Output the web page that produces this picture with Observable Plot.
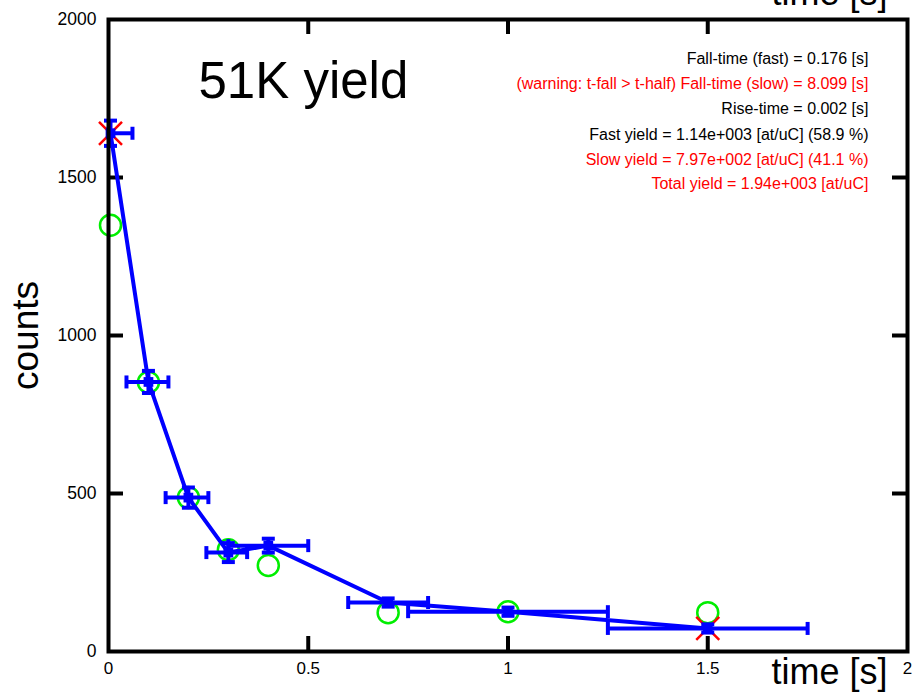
<!DOCTYPE html>
<html>
<head>
<meta charset="utf-8">
<script src="https://cdn.jsdelivr.net/npm/d3@7"></script>
<script src="https://cdn.jsdelivr.net/npm/@observablehq/plot@0.6"></script>
<style>
  html, body { margin: 0; padding: 0; background: #fff; }
  #chart svg { display: block; }
</style>
</head>
<body>
<div id="chart"></div>
<script>
// ---- data ----
const time      = [0.005, 0.1, 0.2, 0.3, 0.4, 0.7, 1.0, 1.5];
const counts    = [1640, 853, 487, 313, 335, 155, 126, 73];
const timeLo    = [0, 0.045, 0.143, 0.245, 0.3, 0.6, 0.75, 1.25];
const timeHi    = [0.06, 0.15, 0.25, 0.347, 0.5, 0.8, 1.25, 1.75];
const countErr  = [40, 35, 32, 30, 22, 13, 13, 13];
const fitCounts = [1349, 852, 487, 322, 272, 123, 126, 123];
const markTime  = [0.005, 1.5];
const markCount = [1640, 73];
const xTicks    = [0, 0.5, 1, 1.5, 2];
const xTickLabels = ["0", "0.5", "1", "1.5", "2"];
const yTicks    = [0, 500, 1000, 1500, 2000];
const innerXTicks = [0.5, 1, 1.5];
const innerYTicks = [500, 1000, 1500];
const annotLines = [
  "Fall-time (fast) = 0.176 [s]",
  "(warning: t-fall > t-half) Fall-time (slow) = 8.099 [s]",
  "Rise-time = 0.002 [s]",
  "Fast yield = 1.14e+003 [at/uC] (58.9 %)",
  "Slow yield = 7.97e+002 [at/uC] (41.1 %)",
  "Total yield = 1.94e+003 [at/uC]"
];
const annotColors = ["black", "red", "black", "black", "red", "red"];
const titleText = "51K yield";
const xLabel = "time [s]";
const yLabel = "counts";

// ---- tables ----
const pts = time.map((t, i) => ({t, c: counts[i], lo: timeLo[i], hi: timeHi[i], e: countErr[i]}));
const fit = time.map((t, i) => ({t, c: fitCounts[i]}));
const marks = markTime.map((t, i) => ({t, c: markCount[i]}));

// ---- custom symbols ----
const rOf = s => Math.sqrt(s / Math.PI);
const vbar = {draw(ctx, size) { const h = rOf(size); ctx.moveTo(0, -h); ctx.lineTo(0, h); }};
const hbar = {draw(ctx, size) { const h = rOf(size); ctx.moveTo(-h, 0); ctx.lineTo(h, 0); }};
const cross = {draw(ctx, size) { const h = rOf(size); ctx.moveTo(-h, -h); ctx.lineTo(h, h); ctx.moveTo(-h, h); ctx.lineTo(h, -h); }};

const W = 915, H = 694, mL = 108, mR = 8, mT = 19, mB = 43;
const iw = W - mL - mR, ih = H - mT - mB, tl = 15;
const blue = "#0000ff", lw = 4;

const annotMarks = annotLines.map((s, i) =>
  Plot.text([s], {frameAnchor: "top-right", dx: -39, dy: [33, 58, 83, 109, 134, 158][i],
    textAnchor: "end", fill: annotColors[i], fontSize: 16}));

const chart = Plot.plot({
  width: W, height: H,
  marginLeft: mL, marginRight: mR, marginTop: mT, marginBottom: mB,
  x: {domain: [0, 2], axis: null},
  y: {domain: [0, 2000], axis: null},
  style: {fontFamily: "'Liberation Sans', Arial, sans-serif", background: "white", color: "black"},
  marks: [
    // inward ticks
    Plot.tickX(innerXTicks, {x: d => d, insetTop: ih - tl, stroke: "black", strokeWidth: 4}),
    Plot.tickX(innerXTicks, {x: d => d, insetBottom: ih - tl, stroke: "black", strokeWidth: 4}),
    Plot.tickY(innerYTicks, {y: d => d, insetRight: iw - tl, stroke: "black", strokeWidth: 4}),
    Plot.tickY(innerYTicks, {y: d => d, insetLeft: iw - tl, stroke: "black", strokeWidth: 4}),
    // tick labels
    Plot.text(xTicks, {x: d => d, text: (d, i) => xTickLabels[i], frameAnchor: "bottom", dy: 22, fontSize: 17}),
    Plot.text(yTicks, {y: d => d, text: d => String(d), frameAnchor: "left", dx: -12, textAnchor: "end", fontSize: 17.5}),
    // fit (green circles)
    Plot.dot(fit, {x: "t", y: "c", r: 10.5, stroke: "#00ee00", strokeWidth: 2.5, fill: "none"}),
    // red markers
    Plot.dot(marks, {x: "t", y: "c", symbol: cross, r: 11.5, stroke: "#ff0000", strokeWidth: 2.5, fill: "none"}),
    // blue data line
    Plot.line(pts, {x: "t", y: "c", stroke: blue, strokeWidth: lw}),
    // x error bars
    Plot.link(pts, {x1: "lo", x2: "hi", y1: "c", y2: "c", stroke: blue, strokeWidth: lw}),
    Plot.dot(pts, {x: "lo", y: "c", symbol: vbar, r: 6.5, stroke: blue, strokeWidth: lw, fill: "none"}),
    Plot.dot(pts, {x: "hi", y: "c", symbol: vbar, r: 6.5, stroke: blue, strokeWidth: lw, fill: "none"}),
    // y error bars
    Plot.link(pts, {x1: "t", x2: "t", y1: d => d.c - d.e, y2: d => d.c + d.e, stroke: blue, strokeWidth: lw}),
    Plot.dot(pts, {x: "t", y: d => d.c - d.e, symbol: hbar, r: 6.5, stroke: blue, strokeWidth: lw, fill: "none"}),
    Plot.dot(pts, {x: "t", y: d => d.c + d.e, symbol: hbar, r: 6.5, stroke: blue, strokeWidth: lw, fill: "none"}),
    // data squares
    Plot.dot(pts, {x: "t", y: "c", symbol: "square", r: 5.5, fill: blue, stroke: "none"}),
    // frame
    Plot.frame({stroke: "black", strokeWidth: 4}),
    // title & annotations
    Plot.text([titleText], {frameAnchor: "top-left", dx: 90, dy: 78, textAnchor: "start", lineAnchor: "bottom", fontSize: 51}),
    ...annotMarks,
    // axis labels
    Plot.text([xLabel], {frameAnchor: "bottom-right", dx: -20, dy: 32, textAnchor: "end", lineAnchor: "bottom", fontSize: 36}),
    Plot.text([xLabel], {frameAnchor: "top-right", dx: -20, dy: -15, textAnchor: "end", lineAnchor: "bottom", fontSize: 36}),
    Plot.text([yLabel], {frameAnchor: "left", dx: -71, rotate: -90, textAnchor: "middle", lineAnchor: "bottom", fontSize: 37})
  ]
});
document.getElementById("chart").appendChild(chart);
</script>
</body>
</html>
